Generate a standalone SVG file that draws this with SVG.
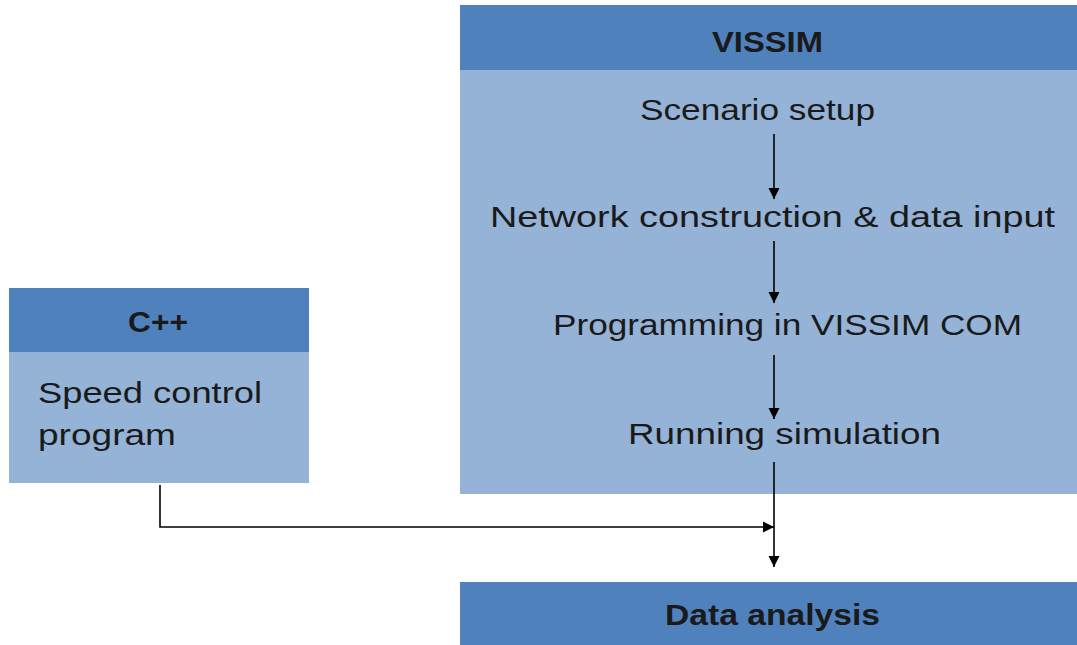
<svg xmlns="http://www.w3.org/2000/svg" width="1077" height="645" viewBox="0 0 1077 645">
<defs>
<style>
.hd{fill:#4F81BD}
.bd{fill:#95B3D7}
.t{font-family:"Liberation Sans",Arial,sans-serif;font-size:29px;fill:#1a1a1a}
.b{font-weight:bold;font-size:29px}
.c{stroke:#000;stroke-width:1.6;fill:none}
</style>
<marker id="ah" markerWidth="12" markerHeight="12" refX="11" refY="6" orient="auto" markerUnits="userSpaceOnUse">
<path d="M0,0.5 L11,6 L0,11.5 Z" fill="#000"/>
</marker>
</defs>
<rect width="1077" height="645" fill="#fff"/>
<g id="vissim">
<rect class="bd" x="460" y="5" width="617" height="489"/>
<rect class="hd" x="460" y="5" width="617" height="65"/>
<text class="t b" x="712" y="52" textLength="111" lengthAdjust="spacingAndGlyphs">VISSIM</text>
<text class="t" x="640" y="120" textLength="235" lengthAdjust="spacingAndGlyphs">Scenario setup</text>
<text class="t" x="490" y="227" textLength="565" lengthAdjust="spacingAndGlyphs">Network construction &amp; data input</text>
<text class="t" x="553" y="335" textLength="469" lengthAdjust="spacingAndGlyphs">Programming in VISSIM COM</text>
<text class="t" x="628" y="444" textLength="313" lengthAdjust="spacingAndGlyphs">Running simulation</text>
</g>
<g id="cpp">
<rect class="bd" x="9" y="288" width="300" height="195"/>
<rect class="hd" x="9" y="288" width="300" height="64"/>
<text class="t b" x="128" y="332" textLength="60" lengthAdjust="spacingAndGlyphs">C++</text>
<text class="t" x="38" y="403" textLength="224" lengthAdjust="spacingAndGlyphs">Speed control</text>
<text class="t" x="38" y="445" textLength="138" lengthAdjust="spacingAndGlyphs">program</text>
</g>
<g id="data-analysis">
<rect class="hd" x="460" y="582" width="617" height="63"/>
<text class="t b" x="665" y="625" textLength="215" lengthAdjust="spacingAndGlyphs">Data analysis</text>
</g>
<g id="connectors">
<line class="c" x1="774" y1="134" x2="774" y2="199" marker-end="url(#ah)"/>
<line class="c" x1="774" y1="241" x2="774" y2="303" marker-end="url(#ah)"/>
<line class="c" x1="774" y1="355" x2="774" y2="419" marker-end="url(#ah)"/>
<line class="c" x1="774" y1="462" x2="774" y2="567" marker-end="url(#ah)"/>
<path class="c" d="M160,485 V527 H774" marker-end="url(#ah)"/>
</g>
</svg>
